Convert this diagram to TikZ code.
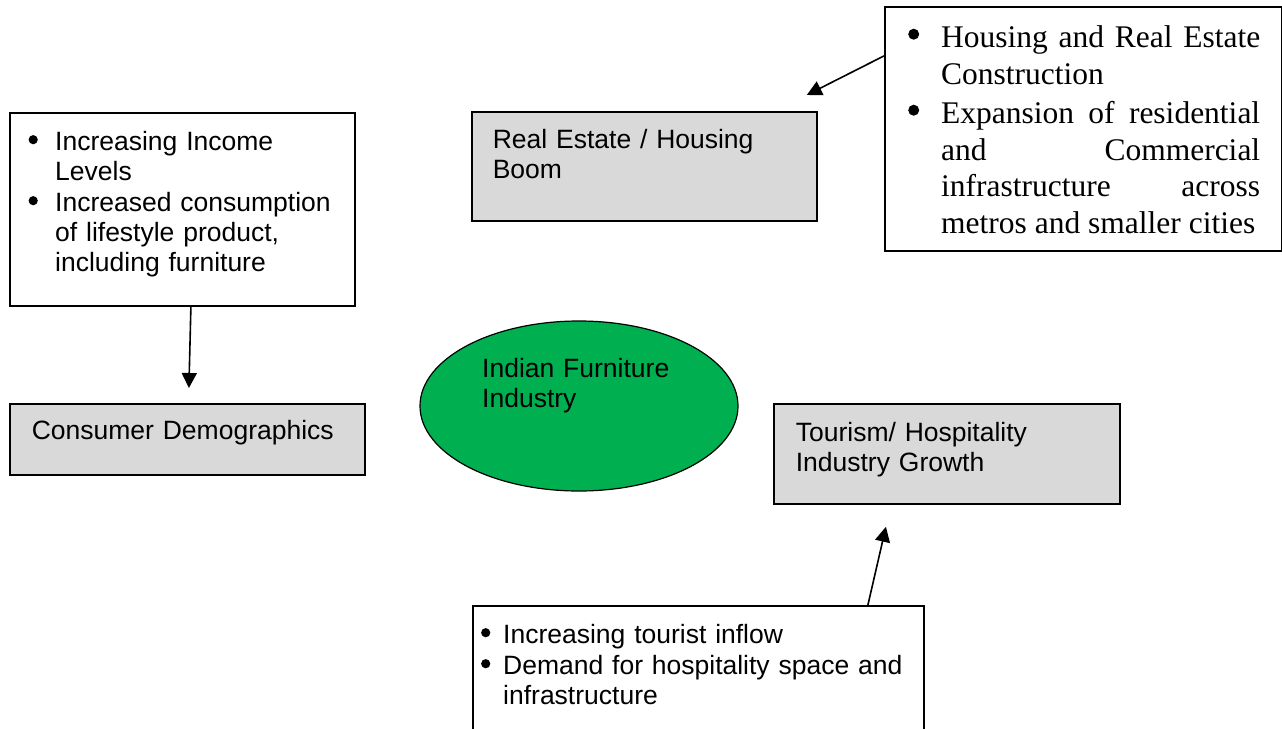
\documentclass[tikz,border=0pt]{standalone}
\usepackage{fontspec}
\usepackage{enumitem}
\usetikzlibrary{arrows.meta, positioning, shapes.geometric}

\newfontfamily\arialfont{Liberation Sans}
\newfontfamily\timesfont{Liberation Serif}
\newcommand{\arialtext}{\arialfont\fontsize{26.5}{30}\selectfont}
\newcommand{\timestext}{\timesfont\fontsize{31.5}{36.5}\selectfont}
% round bullets: radius, height of centre above the baseline
\newcommand{\dotbullet}[2]{\tikz[x=1pt, y=1pt, baseline=-#2, line width=0pt]\fill (0,0) circle (#1);}

\definecolor{boxgrey}{HTML}{D9D9D9}
\definecolor{indgreen}{HTML}{00B050}

\setlist[itemize]{label=\dotbullet{4.6pt}{10.5pt}, labelwidth=9.2pt, topsep=0pt, partopsep=0pt, parsep=0pt, itemsep=1pt, align=left}

\tikzset{
	box/.style={draw, rectangle, anchor=north west, inner sep=0pt, line width=1.8pt},
	greybox/.style={box, fill=boxgrey},
	txt/.style={inner sep=0pt, text width=#1, font=\arialtext, align=left}
}

\begin{document}
\begin{tikzpicture}[
	x=1pt, y=-1pt,
	>={Triangle[length=15pt,width=15pt]},
	line width=1.6pt
]
\clip (0,0) rectangle (1282,728);

\node[box] (inc) at (9,112) [minimum width=345pt, minimum height=193pt] {};
\node[greybox] (cons) at (9,403) [minimum width=355pt, minimum height=71pt] {};
\node[greybox] (reb) at (471,111) [minimum width=345pt, minimum height=109pt] {};
\node[box] (hre) at (884,6) [minimum width=397pt, minimum height=244pt] {};
\node[ellipse, draw, fill=indgreen, line width=1.2pt, inner sep=0pt,
	minimum width=318pt, minimum height=170pt] (ind) at (579,406) {};
\node[greybox] (tour) at (773,403) [minimum width=346pt, minimum height=100pt] {};
\node[box] (tib) at (472,605) [minimum width=451pt, minimum height=130pt] {};
\coordinate (indnw) at (ind.west |- ind.north);

% texts
\node[txt=310pt, below right=8pt and 19.4pt of inc.north west] (inctxt) {%
	\begin{itemize}[leftmargin=26.6pt, labelsep=17.4pt]
	\item Increasing Income\newline Levels
	\item Increased consumption\newline of lifestyle product,\newline including furniture
	\end{itemize}};
\node[txt=330pt, below right=16pt and 22pt of cons.north west] (constxt) {Consumer Demographics};
\node[txt=320pt, below right=17pt and 21pt of reb.north west] (rebtxt) {Real Estate / Housing\\Boom};
\node[txt=300pt, below right=37pt and 62pt of indnw] (indtxt) {Indian Furniture\\Industry};
\node[txt=320pt, below right=18pt and 22pt of tour.north west] (tourtxt) {Tourism/ Hospitality\\Industry Growth};
\node[txt=430pt, below right=8pt and 8.9pt of tib.north west] (tibtxt) {%
	\begin{itemize}[leftmargin=22.1pt, labelsep=12.9pt]
	\item Increasing tourist inflow
	\item Demand for hospitality space and\newline infrastructure
	\end{itemize}};
\node[inner sep=0pt, text width=352pt, font=\timestext, align=justify,
	below right=5pt and 24pt of hre.north west] (hretxt) {%
	\begin{itemize}[leftmargin=33pt, labelwidth=11pt, labelsep=22pt, itemsep=3pt,
		label=\dotbullet{5.5pt}{13.5pt}]
	\item Housing and Real Estate\linebreak Construction
	\item Expansion of residential\linebreak and Commercial\linebreak infrastructure across\linebreak metros and smaller cities
	\end{itemize}};

% arrows
\draw[->] ([xshift=8.5pt]inc.south) -- ([xshift=1.5pt,yshift=15pt]cons.north);
\draw[->] ([yshift=73pt]hre.west) -- ([xshift=-11pt,yshift=16pt]reb.north east);
\draw[->] ([xshift=169.5pt]tib.north) -- ([xshift=-61pt,yshift=-22pt]tour.south);
\end{tikzpicture}
\end{document}
